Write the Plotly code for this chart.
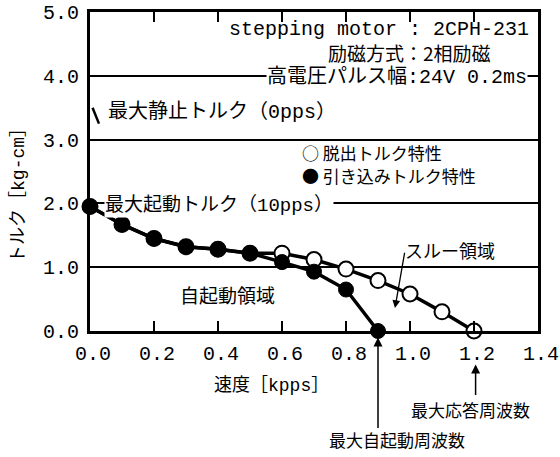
import plotly.graph_objects as go

# ---- data ----
pull_in_speed = [0.0, 0.1, 0.2, 0.3, 0.4, 0.5, 0.6, 0.7, 0.8, 0.9]
pull_in_torque = [1.95, 1.67, 1.45, 1.32, 1.28, 1.22, 1.08, 0.93, 0.65, 0.0]

pull_out_speed = [0.0, 0.1, 0.2, 0.3, 0.4, 0.5, 0.6, 0.7, 0.8, 0.9, 1.0, 1.1, 1.2]
pull_out_torque = [1.95, 1.67, 1.45, 1.32, 1.28, 1.22, 1.22, 1.12, 0.97, 0.79, 0.58, 0.30, 0.0]

static_torque = 3.5
max_start_freq = 0.9
max_response_freq = 1.2
x_ticks = [0.0, 0.2, 0.4, 0.6, 0.8, 1.0, 1.2, 1.4]
x_tick_labels = ["0.0", "0.2", "0.4", "0.6", "0.8", "1.0", "1.2", "1.4"]
y_ticks = [0.0, 1.0, 2.0, 3.0, 4.0, 5.0]
y_tick_labels = ["0.0", "1.0", "2.0", "3.0", "4.0", "5.0"]

MONO = "Liberation Mono, Noto Sans CJK JP"
JP = "Noto Sans CJK JP"

fig = go.Figure()
fig.add_trace(go.Scatter(
    x=pull_out_speed, y=pull_out_torque, mode="lines+markers",
    line=dict(color="black", width=3.5),
    marker=dict(symbol="circle", size=15, color="white", line=dict(color="black", width=2)),
    showlegend=False, cliponaxis=False, hoverinfo="skip"))
fig.add_trace(go.Scatter(
    x=pull_in_speed, y=pull_in_torque, mode="lines+markers",
    line=dict(color="black", width=3.5),
    marker=dict(symbol="circle", size=15, color="black", line=dict(color="black", width=1)),
    showlegend=False, cliponaxis=False, hoverinfo="skip"))

ann = []
def text(x, y, s, size=17, fam=JP, xanchor="left", bg=None, xref="x", yref="y", angle=0):
    d = dict(x=x, y=y, xref=xref, yref=yref, text=s, showarrow=False, textangle=angle,
             font=dict(family=fam, size=size, color="black"), xanchor=xanchor, yanchor="middle")
    if bg:
        d["bgcolor"] = bg
        d["borderpad"] = 0
    ann.append(d)

text(1.378, 4.72, "stepping motor : 2CPH-231", size=20, fam=MONO, xanchor="right")
text(1.26, 4.37, "励磁方式：2相励磁", size=19, fam=JP, xanchor="right")
text(1.37, 3.98, "高電圧パルス幅:24V 0.2ms", size=20, fam=MONO, xanchor="right", bg="white")
text(0.05, 3.44, "最大静止トルク（0pps）", size=20, fam=MONO)
text(0.045, 1.97, "最大起動トルク（10pps）", size=19, fam=MONO, bg="white")
text(0.655, 2.80, "○ 脱出トルク特性", size=17, fam=JP)
text(0.655, 2.43, "● 引き込みトルク特性", size=17, fam=JP)
text(0.43, 0.58, "自起動領域", size=19, fam=JP, xanchor="center")
text(1.125, 1.27, "スルー領域", size=18, fam=JP, xanchor="center")

# axis titles
text(0.406, -0.17, "速度［kpps］", size=18, fam=MONO, xanchor="center", xref="paper", yref="paper")
text(-0.16, 0.44, "トルク［kg-cm］", size=18, fam=MONO, xanchor="center", xref="paper", yref="paper", angle=-90)

# arrows
ann.append(dict(x=0.953, y=0.36, ax=0.984, ay=1.25, xref="x", yref="y", axref="x", ayref="y",
                text="", showarrow=True, arrowhead=2, arrowsize=1.2, arrowwidth=1.3, arrowcolor="black"))
ann.append(dict(x=max_response_freq + 0.005, y=-0.105, xref="x", yref="paper", ax=0, ay=32,
                text="", showarrow=True, arrowhead=2, arrowsize=1.2, arrowwidth=1.5, arrowcolor="black"))
text(1.19, -0.245, "最大応答周波数", size=17, fam=JP, xanchor="center", yref="paper")
ann.append(dict(x=max_start_freq, y=-0.02, xref="x", yref="paper", ax=0, ay=92,
                text="", showarrow=True, arrowhead=2, arrowsize=1.2, arrowwidth=1.5, arrowcolor="black"))
text(0.96, -0.34, "最大自起動周波数", size=17, fam=JP, xanchor="center", yref="paper")

fig.add_shape(type="line", x0=0.008, y0=static_torque, x1=0.028, y1=static_torque - 0.25,
              xref="x", yref="y", line=dict(color="black", width=2.5))

fig.update_layout(
    width=560, height=457,
    margin=dict(l=90, r=22, t=12, b=126, autoexpand=False),
    paper_bgcolor="white", plot_bgcolor="white",
    annotations=ann,
    showlegend=False,
    hovermode=False,
)
fig.update_xaxes(
    range=[0, 1.4], tickvals=x_ticks, ticktext=x_tick_labels,
    ticks="inside", ticklen=10, tickwidth=1.5, tickcolor="black",
    showline=True, linecolor="black", linewidth=3, mirror="ticks",
    showgrid=False, zeroline=False, automargin=False,
    tickfont=dict(family="Liberation Mono", size=20, color="black"),
    ticklabelstandoff=2, ticklabelshift=3,
)
fig.update_yaxes(
    range=[0, 5], tickvals=y_ticks, ticktext=y_tick_labels,
    ticks="", showline=True, linecolor="black", linewidth=3, mirror=True,
    showgrid=True, gridcolor="black", gridwidth=1.5, zeroline=False, automargin=False,
    tickfont=dict(family="Liberation Mono", size=20, color="black"),
    ticklabelstandoff=4,
)

fig.write_html("out.html", config={"displayModeBar": False},
               post_script="document.body.style.margin='0';")
